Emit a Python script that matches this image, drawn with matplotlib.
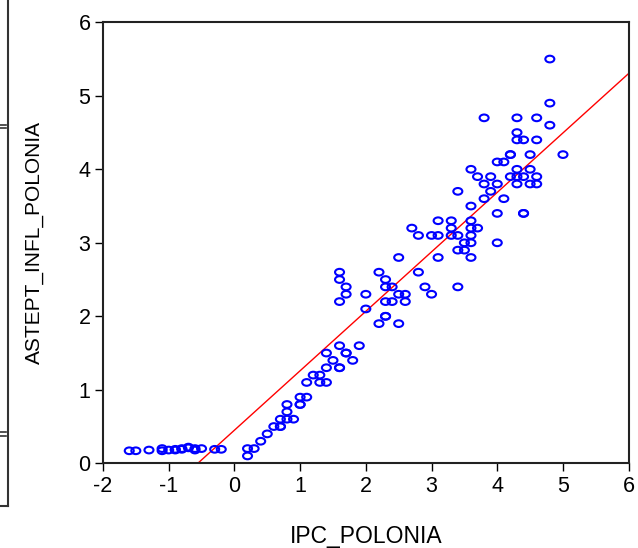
import matplotlib
matplotlib.use("Agg")
import matplotlib.pyplot as plt
from matplotlib.path import Path
from matplotlib.transforms import Affine2D
from matplotlib.lines import Line2D
import numpy as np

# IPC_POLONIA (x) vs ASTEPT_INFL_POLONIA (y)
ipc = [-1.6, -1.5, -1.3, -1.1, -1.1, -1.0, -0.9, -0.9, -0.8, -0.8, -0.7, -0.7,
       -0.6, -0.6, -0.5, -0.3, -0.2,
       0.2, 0.2, 0.3, 0.4, 0.5, 0.6, 0.7, 0.7, 0.7, 0.8, 0.9, 0.8, 0.8, 1.0,
       1.0, 1.0, 1.1, 1.1, 1.2, 1.3, 1.3, 1.4, 1.4, 1.4, 1.5, 1.6, 1.6, 1.6,
       1.7, 1.7, 1.8, 1.9,
       1.6, 1.6, 1.7, 1.7, 1.6, 2.0, 2.0, 2.2, 2.3, 2.3, 2.4, 2.3, 2.4, 2.5,
       2.6, 2.6, 2.3, 2.3, 2.2, 2.5, 2.5, 2.8, 2.9, 3.0, 3.1, 3.4,
       2.7, 2.8, 3.0, 3.1, 3.3, 3.4, 3.6, 3.1, 3.3, 3.6, 3.3, 3.6, 3.7, 3.5,
       3.6, 4.0, 3.4, 3.5, 3.6,
       3.6, 3.4, 3.8, 4.1, 3.9, 4.0, 4.4, 4.4,
       3.8, 4.0, 4.3, 4.5, 4.6,
       3.7, 3.9, 4.2, 4.3, 4.4, 4.6,
       3.6, 4.3, 4.5,
       4.0, 4.1,
       4.2, 4.2, 4.5, 5.0,
       4.3, 4.4, 4.6,
       4.3, 4.8,
       3.8, 4.3, 4.6,
       4.8, 4.8]
infl = [0.17, 0.17, 0.18, 0.20, 0.17, 0.18, 0.18, 0.19, 0.19, 0.20, 0.22, 0.21,
        0.18, 0.20, 0.20, 0.19, 0.19,
        0.2, 0.1, 0.2, 0.3, 0.4, 0.5, 0.5, 0.5, 0.6, 0.6, 0.6, 0.7, 0.8, 0.8,
        0.8, 0.9, 0.9, 1.1, 1.2, 1.2, 1.1, 1.1, 1.3, 1.5, 1.4, 1.3, 1.3, 1.6,
        1.5, 1.5, 1.4, 1.6,
        2.6, 2.5, 2.4, 2.3, 2.2, 2.3, 2.1, 2.6, 2.5, 2.4, 2.4, 2.2, 2.2, 2.3,
        2.3, 2.2, 2.0, 2.0, 1.9, 1.9, 2.8, 2.6, 2.4, 2.3, 2.8, 2.4,
        3.2, 3.1, 3.1, 3.1, 3.1, 3.1, 3.1, 3.3, 3.3, 3.3, 3.2, 3.2, 3.2, 3.0,
        3.0, 3.0, 2.9, 2.9, 2.8,
        3.5, 3.7, 3.6, 3.6, 3.7, 3.4, 3.4, 3.4,
        3.8, 3.8, 3.8, 3.8, 3.8,
        3.9, 3.9, 3.9, 3.9, 3.9, 3.9,
        4.0, 4.0, 4.0,
        4.1, 4.1,
        4.2, 4.2, 4.2, 4.2,
        4.4, 4.4, 4.4,
        4.5, 4.6,
        4.7, 4.7, 4.7,
        4.9, 5.5]

# fitted line
intercept = 0.45
slope = 0.809

plt.rcParams['font.family'] = ['Liberation Sans', 'DejaVu Sans']
plt.rcParams['axes.unicode_minus'] = False

fig = plt.figure(figsize=(6.38, 5.48), dpi=100)
ax = fig.add_axes([0.1614, 0.1546, 0.824, 0.8047])

# slightly wide open circle, like the reference
circ = Path.unit_circle()
ell = Affine2D().scale(1.35, 1.0).transform_path(circ)

ax.scatter(ipc, infl, marker=ell, s=42, facecolors='none',
           edgecolors='#0000ff', linewidths=1.5, zorder=3)

xs = np.array([-2, 6])
ax.plot(xs, intercept + slope * xs, color='#ff0000', lw=1.0, zorder=2)

ax.set_xlim(-2, 6)
ax.set_ylim(0, 6)
ax.set_xticks(range(-2, 7))
ax.set_yticks(range(0, 7))
ax.tick_params(direction='out', length=6, width=1, labelsize=15.5,
               pad=3, colors='black', top=False, right=False)
for sp in ax.spines.values():
    sp.set_linewidth(1.5)
    sp.set_color('#222222')

ax.set_xlabel('IPC_POLONIA', fontsize=16.5, labelpad=20)
ax.set_ylabel('ASTEPT_INFL_POLONIA', fontsize=15, labelpad=25)

# edge of the neighbouring graph, cut off on the left
W, H = 638.0, 548.0
def fx(p):
    return p / W
def fy(p):
    return 1 - p / H
fig.add_artist(Line2D([fx(8), fx(8)], [fy(0), fy(506)], color='#333333', lw=1.5))
fig.add_artist(Line2D([fx(0), fx(8)], [fy(506), fy(506)], color='#333333', lw=1.5))
for yy in (124.5, 128, 432, 435.5):
    fig.add_artist(Line2D([fx(0), fx(6)], [fy(yy), fy(yy)], color='#333333', lw=1.2))

fig.savefig('out.png', dpi=100)
